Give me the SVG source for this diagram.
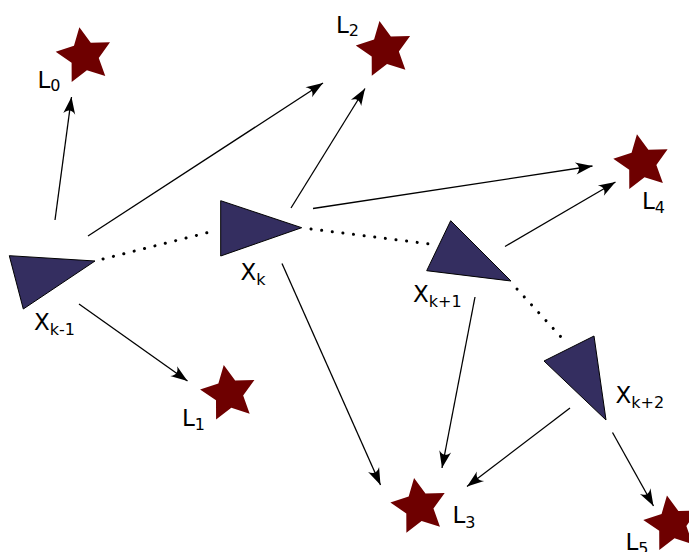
<svg xmlns="http://www.w3.org/2000/svg" width="689" height="552" viewBox="0 0 689 552">
<style>
.tri{fill:#342e60;stroke:#000;stroke-width:1}
.star{fill:#6e0000}
.arr{fill:none;stroke:#000;stroke-width:1.3;marker-end:url(#ah)}
.dot{fill:none;stroke:#000;stroke-width:3;stroke-linecap:round;stroke-dasharray:0.1 10.6}
text{font-family:"DejaVu Sans",sans-serif;font-size:23px;fill:#000}
.sub{font-size:16px}
</style>
<defs>
<marker id="ah" markerUnits="userSpaceOnUse" viewBox="-18 -7 20 14" refX="0" refY="0" markerWidth="20" markerHeight="14" orient="auto" overflow="visible">
<path d="M0,0 L-17,-6 C-12.5,-2 -12.5,2 -17,6 Z" fill="#000"/>
</marker>
<path id="st" class="star" d="M-5.04,-28.56 L6.36,-13.03 L25.6,-13.62 L14.36,2.02 L20.86,20.15 L2.52,14.28 L-12.71,26.07 L-12.8,6.81 L-28.72,-4.04 L-10.43,-10.07 Z"/>
</defs>
<g id="connectors">
<line class="arr" x1="55" y1="220" x2="71.5" y2="97"/>
<line class="arr" x1="88" y1="236" x2="323" y2="83"/>
<line class="arr" x1="79" y1="304" x2="187.5" y2="381"/>
<line class="arr" x1="291" y1="208" x2="365" y2="88.5"/>
<line class="arr" x1="313" y1="208.5" x2="592.5" y2="166"/>
<line class="arr" x1="282" y1="263.5" x2="380.5" y2="485"/>
<line class="arr" x1="505" y1="246.5" x2="615.5" y2="182"/>
<line class="arr" x1="475" y1="297" x2="442" y2="468"/>
<line class="arr" x1="570" y1="408" x2="467" y2="486.5"/>
<line class="arr" x1="612.5" y1="432.5" x2="653.5" y2="506"/>
<line class="dot" x1="103" y1="259" x2="214" y2="231"/>
<line class="dot" x1="311" y1="229" x2="434" y2="244.5"/>
<line class="dot" x1="517" y1="289" x2="567" y2="343.5"/>
</g>
<g id="Xk-1">
<polygon class="tri" points="9.3,255.7 95,261 23.3,309"/>
<text x="34" y="329.5">X<tspan class="sub" dy="5.5">k-1</tspan></text>
</g>
<g id="Xk">
<polygon class="tri" points="220.7,200.7 301.7,227.7 220.7,256"/>
<text x="240.5" y="280">X<tspan class="sub" dy="5">k</tspan></text>
</g>
<g id="Xk+1">
<polygon class="tri" points="450.7,220.7 511,281 426.7,270.7"/>
<text x="413" y="301.7">X<tspan class="sub" dy="5">k+1</tspan></text>
</g>
<g id="Xk+2">
<polygon class="tri" points="594,336 606,420 544,361"/>
<text x="615.5" y="402.7">X<tspan class="sub" dy="5.5">k+2</tspan></text>
</g>
<g id="L0">
<use href="#st" x="84.4" y="55.9"/>
<text x="37.5" y="87.5">L<tspan class="sub" dy="3.5">0</tspan></text>
</g>
<g id="L1">
<use href="#st" x="228.8" y="393.5"/>
<text x="182" y="426">L<tspan class="sub" dy="4">1</tspan></text>
</g>
<g id="L2">
<use href="#st" x="384.5" y="49.6"/>
<text x="336" y="32.5">L<tspan class="sub" dy="3.5">2</tspan></text>
</g>
<g id="L3">
<use href="#st" x="419.1" y="506.6"/>
<text x="452.5" y="522.7">L<tspan class="sub" dy="5">3</tspan></text>
</g>
<g id="L4">
<use href="#st" x="642" y="162.9"/>
<text x="642" y="209.3">L<tspan class="sub" dy="3.5">4</tspan></text>
</g>
<g id="L5">
<use href="#st" x="672" y="524"/>
<text x="625.5" y="550">L<tspan class="sub" dy="4">5</tspan></text>
</g>
</svg>
